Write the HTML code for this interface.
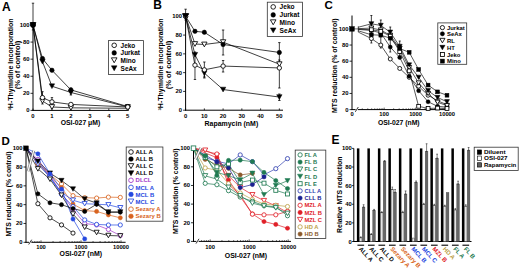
<!DOCTYPE html>
<html><head><meta charset="utf-8"><style>
html,body{margin:0;padding:0;background:#fff;}
svg{display:block;}
text{font-family:"Liberation Sans", sans-serif;}
</style></head><body>
<svg width="520" height="269" viewBox="0 0 520 269">
<rect x="0" y="0" width="520" height="269" fill="#fff"/>
<text x="1.9" y="10.8" font-size="12" text-anchor="start" font-weight="bold" fill="#000">A</text>
<text x="153.3" y="9.4" font-size="12" text-anchor="start" font-weight="bold" fill="#000">B</text>
<text x="324.5" y="8.9" font-size="11.5" text-anchor="start" font-weight="bold" fill="#000">C</text>
<text x="1.5" y="144.6" font-size="11.5" text-anchor="start" font-weight="bold" fill="#000">D</text>
<text x="331.6" y="144.1" font-size="12" text-anchor="start" font-weight="bold" fill="#000">E</text>
<line x1="33" y1="110.8" x2="33" y2="25" stroke="#000" stroke-width="1"/>
<line x1="30.5" y1="110.4" x2="33" y2="110.4" stroke="#000" stroke-width="0.8"/>
<text x="29.5" y="112.4" font-size="5.9" text-anchor="end" font-weight="bold" fill="#000">0</text>
<line x1="30.5" y1="93.32" x2="33" y2="93.32" stroke="#000" stroke-width="0.8"/>
<text x="29.5" y="95.32" font-size="5.9" text-anchor="end" font-weight="bold" fill="#000">20</text>
<line x1="30.5" y1="76.24" x2="33" y2="76.24" stroke="#000" stroke-width="0.8"/>
<text x="29.5" y="78.24" font-size="5.9" text-anchor="end" font-weight="bold" fill="#000">40</text>
<line x1="30.5" y1="59.16" x2="33" y2="59.16" stroke="#000" stroke-width="0.8"/>
<text x="29.5" y="61.16" font-size="5.9" text-anchor="end" font-weight="bold" fill="#000">60</text>
<line x1="30.5" y1="42.08" x2="33" y2="42.08" stroke="#000" stroke-width="0.8"/>
<text x="29.5" y="44.08" font-size="5.9" text-anchor="end" font-weight="bold" fill="#000">80</text>
<line x1="30.5" y1="25" x2="33" y2="25" stroke="#000" stroke-width="0.8"/>
<text x="29.5" y="27" font-size="5.9" text-anchor="end" font-weight="bold" fill="#000">100</text>
<line x1="32.5" y1="110.4" x2="128.6" y2="110.4" stroke="#000" stroke-width="1"/>
<line x1="33" y1="110.4" x2="33" y2="108.6" stroke="#000" stroke-width="0.8"/>
<text x="33" y="117.7" font-size="5.9" text-anchor="middle" font-weight="bold" fill="#000">0</text>
<line x1="51.95" y1="110.4" x2="51.95" y2="108.6" stroke="#000" stroke-width="0.8"/>
<text x="51.95" y="117.7" font-size="5.9" text-anchor="middle" font-weight="bold" fill="#000">1</text>
<line x1="70.9" y1="110.4" x2="70.9" y2="108.6" stroke="#000" stroke-width="0.8"/>
<text x="70.9" y="117.7" font-size="5.9" text-anchor="middle" font-weight="bold" fill="#000">2</text>
<line x1="89.85" y1="110.4" x2="89.85" y2="108.6" stroke="#000" stroke-width="0.8"/>
<text x="89.85" y="117.7" font-size="5.9" text-anchor="middle" font-weight="bold" fill="#000">3</text>
<line x1="108.8" y1="110.4" x2="108.8" y2="108.6" stroke="#000" stroke-width="0.8"/>
<text x="108.8" y="117.7" font-size="5.9" text-anchor="middle" font-weight="bold" fill="#000">4</text>
<line x1="127.75" y1="110.4" x2="127.75" y2="108.6" stroke="#000" stroke-width="0.8"/>
<text x="127.75" y="117.7" font-size="5.9" text-anchor="middle" font-weight="bold" fill="#000">5</text>
<text x="80.5" y="125" font-size="7" text-anchor="middle" font-weight="bold" fill="#000" textLength="39.5" lengthAdjust="spacingAndGlyphs">OSI-027 μM)</text>
<text x="12.6" y="64.5" font-size="7" text-anchor="middle" font-weight="bold" fill="#000" textLength="92" lengthAdjust="spacingAndGlyphs" transform="rotate(-90 12.6 64.5)">³H-Thymidine Incorporation</text>
<text x="20.2" y="65" font-size="7.4" text-anchor="middle" font-weight="bold" fill="#000" textLength="48.6" lengthAdjust="spacingAndGlyphs" transform="rotate(-90 20.2 65)">(% of control)</text>
<line x1="33" y1="3.2" x2="33" y2="30" stroke="#000" stroke-width="0.75"/>
<line x1="31.8" y1="3.2" x2="34.2" y2="3.2" stroke="#000" stroke-width="0.75"/>
<line x1="31.8" y1="30" x2="34.2" y2="30" stroke="#000" stroke-width="0.75"/>
<line x1="42.48" y1="91.7" x2="42.48" y2="104" stroke="#000" stroke-width="0.75"/>
<line x1="41.27" y1="91.7" x2="43.68" y2="91.7" stroke="#000" stroke-width="0.75"/>
<line x1="41.27" y1="104" x2="43.68" y2="104" stroke="#000" stroke-width="0.75"/>
<line x1="51.95" y1="97.6" x2="51.95" y2="108" stroke="#000" stroke-width="0.75"/>
<line x1="50.75" y1="97.6" x2="53.15" y2="97.6" stroke="#000" stroke-width="0.75"/>
<line x1="50.75" y1="108" x2="53.15" y2="108" stroke="#000" stroke-width="0.75"/>
<line x1="70.9" y1="88" x2="70.9" y2="95" stroke="#000" stroke-width="0.75"/>
<line x1="69.7" y1="88" x2="72.1" y2="88" stroke="#000" stroke-width="0.75"/>
<line x1="69.7" y1="95" x2="72.1" y2="95" stroke="#000" stroke-width="0.75"/>
<polyline points="33,25 42.48,97.59 51.95,101.86 70.9,104.42 127.75,106.98" fill="none" stroke="#000" stroke-width="0.75"/>
<polyline points="33,25 42.48,58.56 51.95,70.26 70.9,89.9 127.75,106.56" fill="none" stroke="#000" stroke-width="0.75"/>
<polyline points="33,25 42.48,101.01 51.95,106.98 70.9,107.84 127.75,108.27" fill="none" stroke="#000" stroke-width="0.75"/>
<polyline points="33,25 42.48,61.72 51.95,86.23 70.9,92.47 127.75,106.98" fill="none" stroke="#000" stroke-width="0.75"/>
<polygon points="30.3,22.63 35.7,22.63 33,27.37" fill="#000" stroke="#000" stroke-width="0.5"/>
<polygon points="39.78,59.36 45.17,59.36 42.48,64.09" fill="#000" stroke="#000" stroke-width="0.5"/>
<polygon points="49.26,83.87 54.65,83.87 51.95,88.6" fill="#000" stroke="#000" stroke-width="0.5"/>
<polygon points="68.21,90.1 73.59,90.1 70.9,94.83" fill="#000" stroke="#000" stroke-width="0.5"/>
<polygon points="125.06,104.62 130.44,104.62 127.75,109.35" fill="#000" stroke="#000" stroke-width="0.5"/>
<polygon points="30.3,22.63 35.7,22.63 33,27.37" fill="#fff" stroke="#000" stroke-width="0.85"/>
<polygon points="39.78,98.64 45.17,98.64 42.48,103.37" fill="#fff" stroke="#000" stroke-width="0.85"/>
<polygon points="49.26,104.62 54.65,104.62 51.95,109.35" fill="#fff" stroke="#000" stroke-width="0.85"/>
<polygon points="68.21,105.47 73.59,105.47 70.9,110.2" fill="#fff" stroke="#000" stroke-width="0.85"/>
<polygon points="125.06,105.9 130.44,105.9 127.75,110.63" fill="#fff" stroke="#000" stroke-width="0.85"/>
<circle cx="33" cy="25" r="2.2" fill="#000" stroke="#000" stroke-width="0.5"/>
<circle cx="42.48" cy="58.56" r="2.2" fill="#000" stroke="#000" stroke-width="0.5"/>
<circle cx="51.95" cy="70.26" r="2.2" fill="#000" stroke="#000" stroke-width="0.5"/>
<circle cx="70.9" cy="89.9" r="2.2" fill="#000" stroke="#000" stroke-width="0.5"/>
<circle cx="127.75" cy="106.56" r="2.2" fill="#000" stroke="#000" stroke-width="0.5"/>
<circle cx="33" cy="25" r="2.2" fill="#fff" stroke="#000" stroke-width="0.85"/>
<circle cx="42.48" cy="97.59" r="2.2" fill="#fff" stroke="#000" stroke-width="0.85"/>
<circle cx="51.95" cy="101.86" r="2.2" fill="#fff" stroke="#000" stroke-width="0.85"/>
<circle cx="70.9" cy="104.42" r="2.2" fill="#fff" stroke="#000" stroke-width="0.85"/>
<circle cx="127.75" cy="106.98" r="2.2" fill="#fff" stroke="#000" stroke-width="0.85"/>
<polygon points="30.43,22.74 35.57,22.74 33,27.26" fill="#000" stroke="#000" stroke-width="0.5"/>
<circle cx="33" cy="25" r="2.5" fill="#000" stroke="#000" stroke-width="0.5"/>
<rect x="108.4" y="40.6" width="35.1" height="33.9" fill="#fff" stroke="#333" stroke-width="0.8"/>
<circle cx="114.2" cy="45.3" r="2.3" fill="#fff" stroke="#000" stroke-width="0.85"/>
<text x="120.6" y="47.5" font-size="6.45" text-anchor="start" font-weight="bold" fill="#000">Jeko</text>
<circle cx="114.2" cy="52.9" r="2.3" fill="#000" stroke="#000" stroke-width="0.5"/>
<text x="120.6" y="55.1" font-size="6.45" text-anchor="start" font-weight="bold" fill="#000">Jurkat</text>
<polygon points="111.38,57.83 117.02,57.83 114.2,62.77" fill="#fff" stroke="#000" stroke-width="0.85"/>
<text x="120.6" y="62.5" font-size="6.45" text-anchor="start" font-weight="bold" fill="#000">Mino</text>
<polygon points="111.38,65.83 117.02,65.83 114.2,70.77" fill="#000" stroke="#000" stroke-width="0.5"/>
<text x="120.6" y="70.5" font-size="6.45" text-anchor="start" font-weight="bold" fill="#000">SeAx</text>
<line x1="185.6" y1="110.6" x2="185.6" y2="16.3" stroke="#000" stroke-width="1"/>
<line x1="183.1" y1="110.2" x2="185.6" y2="110.2" stroke="#000" stroke-width="0.8"/>
<text x="182.1" y="112.2" font-size="5.9" text-anchor="end" font-weight="bold" fill="#000">0</text>
<line x1="183.1" y1="91.42" x2="185.6" y2="91.42" stroke="#000" stroke-width="0.8"/>
<text x="182.1" y="93.42" font-size="5.9" text-anchor="end" font-weight="bold" fill="#000">20</text>
<line x1="183.1" y1="72.64" x2="185.6" y2="72.64" stroke="#000" stroke-width="0.8"/>
<text x="182.1" y="74.64" font-size="5.9" text-anchor="end" font-weight="bold" fill="#000">40</text>
<line x1="183.1" y1="53.86" x2="185.6" y2="53.86" stroke="#000" stroke-width="0.8"/>
<text x="182.1" y="55.86" font-size="5.9" text-anchor="end" font-weight="bold" fill="#000">60</text>
<line x1="183.1" y1="35.08" x2="185.6" y2="35.08" stroke="#000" stroke-width="0.8"/>
<text x="182.1" y="37.08" font-size="5.9" text-anchor="end" font-weight="bold" fill="#000">80</text>
<line x1="183.1" y1="16.3" x2="185.6" y2="16.3" stroke="#000" stroke-width="0.8"/>
<text x="182.1" y="18.3" font-size="5.9" text-anchor="end" font-weight="bold" fill="#000">100</text>
<line x1="185.1" y1="110.2" x2="283" y2="110.2" stroke="#000" stroke-width="1"/>
<line x1="185.6" y1="110.2" x2="185.6" y2="108.4" stroke="#000" stroke-width="0.8"/>
<text x="185.6" y="117.5" font-size="5.9" text-anchor="middle" font-weight="bold" fill="#000">0</text>
<line x1="204.35" y1="110.2" x2="204.35" y2="108.4" stroke="#000" stroke-width="0.8"/>
<text x="204.35" y="117.5" font-size="5.9" text-anchor="middle" font-weight="bold" fill="#000">10</text>
<line x1="223.1" y1="110.2" x2="223.1" y2="108.4" stroke="#000" stroke-width="0.8"/>
<text x="223.1" y="117.5" font-size="5.9" text-anchor="middle" font-weight="bold" fill="#000">20</text>
<line x1="241.85" y1="110.2" x2="241.85" y2="108.4" stroke="#000" stroke-width="0.8"/>
<text x="241.85" y="117.5" font-size="5.9" text-anchor="middle" font-weight="bold" fill="#000">30</text>
<line x1="260.6" y1="110.2" x2="260.6" y2="108.4" stroke="#000" stroke-width="0.8"/>
<text x="260.6" y="117.5" font-size="5.9" text-anchor="middle" font-weight="bold" fill="#000">40</text>
<line x1="279.35" y1="110.2" x2="279.35" y2="108.4" stroke="#000" stroke-width="0.8"/>
<text x="279.35" y="117.5" font-size="5.9" text-anchor="middle" font-weight="bold" fill="#000">50</text>
<text x="231.4" y="125.6" font-size="7" text-anchor="middle" font-weight="bold" fill="#000" textLength="53.6" lengthAdjust="spacingAndGlyphs">Rapamycin (nM)</text>
<text x="163.4" y="64.5" font-size="7" text-anchor="middle" font-weight="bold" fill="#000" textLength="92" lengthAdjust="spacingAndGlyphs" transform="rotate(-90 163.4 64.5)">³H-Thymidine Incorporation</text>
<text x="171" y="65" font-size="7.4" text-anchor="middle" font-weight="bold" fill="#000" textLength="48.6" lengthAdjust="spacingAndGlyphs" transform="rotate(-90 171 65)">(% of control)</text>
<line x1="185.6" y1="9.2" x2="185.6" y2="20" stroke="#000" stroke-width="0.75"/>
<line x1="184.4" y1="9.2" x2="186.8" y2="9.2" stroke="#000" stroke-width="0.75"/>
<line x1="184.4" y1="20" x2="186.8" y2="20" stroke="#000" stroke-width="0.75"/>
<line x1="194.97" y1="52" x2="194.97" y2="79.5" stroke="#000" stroke-width="0.75"/>
<line x1="193.78" y1="52" x2="196.17" y2="52" stroke="#000" stroke-width="0.75"/>
<line x1="193.78" y1="79.5" x2="196.17" y2="79.5" stroke="#000" stroke-width="0.75"/>
<line x1="204.35" y1="62" x2="204.35" y2="77" stroke="#000" stroke-width="0.75"/>
<line x1="203.15" y1="62" x2="205.55" y2="62" stroke="#000" stroke-width="0.75"/>
<line x1="203.15" y1="77" x2="205.55" y2="77" stroke="#000" stroke-width="0.75"/>
<line x1="223.1" y1="30" x2="223.1" y2="55" stroke="#000" stroke-width="0.75"/>
<line x1="221.9" y1="30" x2="224.3" y2="30" stroke="#000" stroke-width="0.75"/>
<line x1="221.9" y1="55" x2="224.3" y2="55" stroke="#000" stroke-width="0.75"/>
<line x1="279.35" y1="42.6" x2="279.35" y2="62" stroke="#000" stroke-width="0.75"/>
<line x1="278.15" y1="42.6" x2="280.55" y2="42.6" stroke="#000" stroke-width="0.75"/>
<line x1="278.15" y1="62" x2="280.55" y2="62" stroke="#000" stroke-width="0.75"/>
<line x1="279.35" y1="60" x2="279.35" y2="88" stroke="#000" stroke-width="0.75"/>
<line x1="278.15" y1="60" x2="280.55" y2="60" stroke="#000" stroke-width="0.75"/>
<line x1="278.15" y1="88" x2="280.55" y2="88" stroke="#000" stroke-width="0.75"/>
<line x1="204.35" y1="69" x2="204.35" y2="78" stroke="#000" stroke-width="0.75"/>
<line x1="203.15" y1="69" x2="205.55" y2="69" stroke="#000" stroke-width="0.75"/>
<line x1="203.15" y1="78" x2="205.55" y2="78" stroke="#000" stroke-width="0.75"/>
<line x1="223.1" y1="60.5" x2="223.1" y2="72" stroke="#000" stroke-width="0.75"/>
<line x1="221.9" y1="60.5" x2="224.3" y2="60.5" stroke="#000" stroke-width="0.75"/>
<line x1="221.9" y1="72" x2="224.3" y2="72" stroke="#000" stroke-width="0.75"/>
<line x1="279.35" y1="94" x2="279.35" y2="100.5" stroke="#000" stroke-width="0.75"/>
<line x1="278.15" y1="94" x2="280.55" y2="94" stroke="#000" stroke-width="0.75"/>
<line x1="278.15" y1="100.5" x2="280.55" y2="100.5" stroke="#000" stroke-width="0.75"/>
<polyline points="185.6,16.3 194.97,65.13 204.35,69.82 223.1,66.07 279.35,67.94" fill="none" stroke="#000" stroke-width="0.75"/>
<polyline points="185.6,16.3 194.97,31.32 204.35,32.26 223.1,44.47 279.35,52.45" fill="none" stroke="#000" stroke-width="0.75"/>
<polyline points="185.6,16.3 194.97,44 204.35,44.47 223.1,42.12 279.35,64.19" fill="none" stroke="#000" stroke-width="0.75"/>
<polyline points="185.6,16.3 194.97,54.8 204.35,73.11 223.1,89.54 279.35,97.05" fill="none" stroke="#000" stroke-width="0.75"/>
<polygon points="182.91,13.93 188.29,13.93 185.6,18.66" fill="#000" stroke="#000" stroke-width="0.5"/>
<polygon points="192.28,52.43 197.67,52.43 194.97,57.16" fill="#000" stroke="#000" stroke-width="0.5"/>
<polygon points="201.66,70.74 207.04,70.74 204.35,75.47" fill="#000" stroke="#000" stroke-width="0.5"/>
<polygon points="220.41,87.18 225.79,87.18 223.1,91.91" fill="#000" stroke="#000" stroke-width="0.5"/>
<polygon points="276.66,94.69 282.05,94.69 279.35,99.42" fill="#000" stroke="#000" stroke-width="0.5"/>
<polygon points="182.91,13.93 188.29,13.93 185.6,18.66" fill="#fff" stroke="#000" stroke-width="0.85"/>
<polygon points="192.28,41.64 197.67,41.64 194.97,46.37" fill="#fff" stroke="#000" stroke-width="0.85"/>
<polygon points="201.66,42.1 207.04,42.1 204.35,46.84" fill="#fff" stroke="#000" stroke-width="0.85"/>
<polygon points="220.41,39.76 225.79,39.76 223.1,44.49" fill="#fff" stroke="#000" stroke-width="0.85"/>
<polygon points="276.66,61.82 282.05,61.82 279.35,66.55" fill="#fff" stroke="#000" stroke-width="0.85"/>
<circle cx="185.6" cy="16.3" r="2.2" fill="#000" stroke="#000" stroke-width="0.5"/>
<circle cx="194.97" cy="31.32" r="2.2" fill="#000" stroke="#000" stroke-width="0.5"/>
<circle cx="204.35" cy="32.26" r="2.2" fill="#000" stroke="#000" stroke-width="0.5"/>
<circle cx="223.1" cy="44.47" r="2.2" fill="#000" stroke="#000" stroke-width="0.5"/>
<circle cx="279.35" cy="52.45" r="2.2" fill="#000" stroke="#000" stroke-width="0.5"/>
<circle cx="185.6" cy="16.3" r="2.2" fill="#fff" stroke="#000" stroke-width="0.85"/>
<circle cx="194.97" cy="65.13" r="2.2" fill="#fff" stroke="#000" stroke-width="0.85"/>
<circle cx="204.35" cy="69.82" r="2.2" fill="#fff" stroke="#000" stroke-width="0.85"/>
<circle cx="223.1" cy="66.07" r="2.2" fill="#fff" stroke="#000" stroke-width="0.85"/>
<circle cx="279.35" cy="67.94" r="2.2" fill="#fff" stroke="#000" stroke-width="0.85"/>
<polygon points="182.41,13.5 188.78,13.5 185.6,19.09" fill="#000" stroke="#000" stroke-width="0.5"/>
<rect x="267.3" y="2.2" width="35.1" height="34.3" fill="#fff" stroke="#333" stroke-width="0.8"/>
<circle cx="273.2" cy="6.9" r="2.3" fill="#fff" stroke="#000" stroke-width="0.85"/>
<text x="279.6" y="9.1" font-size="6.6" text-anchor="start" font-weight="bold" fill="#000">Jeko</text>
<circle cx="273.2" cy="14.9" r="2.3" fill="#000" stroke="#000" stroke-width="0.5"/>
<text x="279.6" y="17.1" font-size="6.6" text-anchor="start" font-weight="bold" fill="#000">Jurkat</text>
<polygon points="270.38,19.83 276.02,19.83 273.2,24.77" fill="#fff" stroke="#000" stroke-width="0.85"/>
<text x="279.6" y="24.5" font-size="6.6" text-anchor="start" font-weight="bold" fill="#000">Mino</text>
<polygon points="270.38,27.93 276.02,27.93 273.2,32.87" fill="#000" stroke="#000" stroke-width="0.5"/>
<text x="279.6" y="32.6" font-size="6.6" text-anchor="start" font-weight="bold" fill="#000">SeAx</text>
<line x1="352" y1="110" x2="352" y2="15.5" stroke="#000" stroke-width="1"/>
<line x1="349.5" y1="109.6" x2="352" y2="109.6" stroke="#000" stroke-width="0.8"/>
<text x="348.5" y="111.6" font-size="5.9" text-anchor="end" font-weight="bold" fill="#000">0</text>
<line x1="349.5" y1="93.46" x2="352" y2="93.46" stroke="#000" stroke-width="0.8"/>
<text x="348.5" y="95.46" font-size="5.9" text-anchor="end" font-weight="bold" fill="#000">20</text>
<line x1="349.5" y1="77.32" x2="352" y2="77.32" stroke="#000" stroke-width="0.8"/>
<text x="348.5" y="79.32" font-size="5.9" text-anchor="end" font-weight="bold" fill="#000">40</text>
<line x1="349.5" y1="61.18" x2="352" y2="61.18" stroke="#000" stroke-width="0.8"/>
<text x="348.5" y="63.18" font-size="5.9" text-anchor="end" font-weight="bold" fill="#000">60</text>
<line x1="349.5" y1="45.04" x2="352" y2="45.04" stroke="#000" stroke-width="0.8"/>
<text x="348.5" y="47.04" font-size="5.9" text-anchor="end" font-weight="bold" fill="#000">80</text>
<line x1="349.5" y1="28.9" x2="352" y2="28.9" stroke="#000" stroke-width="0.8"/>
<text x="348.5" y="30.9" font-size="5.9" text-anchor="end" font-weight="bold" fill="#000">100</text>
<line x1="351.5" y1="109.6" x2="355.6" y2="109.6" stroke="#000" stroke-width="1"/>
<line x1="357.9" y1="109.6" x2="448.5" y2="109.6" stroke="#000" stroke-width="1"/>
<line x1="355.3" y1="111.8" x2="358.3" y2="107" stroke="#000" stroke-width="0.8"/>
<line x1="362.25" y1="109.6" x2="362.25" y2="108.3" stroke="#000" stroke-width="0.6"/>
<line x1="367.78" y1="109.6" x2="367.78" y2="108.3" stroke="#000" stroke-width="0.6"/>
<line x1="371.7" y1="109.6" x2="371.7" y2="108.3" stroke="#000" stroke-width="0.6"/>
<line x1="374.75" y1="109.6" x2="374.75" y2="108.3" stroke="#000" stroke-width="0.6"/>
<line x1="377.23" y1="109.6" x2="377.23" y2="108.3" stroke="#000" stroke-width="0.6"/>
<line x1="379.34" y1="109.6" x2="379.34" y2="108.3" stroke="#000" stroke-width="0.6"/>
<line x1="381.16" y1="109.6" x2="381.16" y2="108.3" stroke="#000" stroke-width="0.6"/>
<line x1="382.76" y1="109.6" x2="382.76" y2="108.3" stroke="#000" stroke-width="0.6"/>
<line x1="384.2" y1="109.6" x2="384.2" y2="107.6" stroke="#000" stroke-width="0.6"/>
<line x1="393.65" y1="109.6" x2="393.65" y2="108.3" stroke="#000" stroke-width="0.6"/>
<line x1="399.18" y1="109.6" x2="399.18" y2="108.3" stroke="#000" stroke-width="0.6"/>
<line x1="403.1" y1="109.6" x2="403.1" y2="108.3" stroke="#000" stroke-width="0.6"/>
<line x1="406.15" y1="109.6" x2="406.15" y2="108.3" stroke="#000" stroke-width="0.6"/>
<line x1="408.63" y1="109.6" x2="408.63" y2="108.3" stroke="#000" stroke-width="0.6"/>
<line x1="410.74" y1="109.6" x2="410.74" y2="108.3" stroke="#000" stroke-width="0.6"/>
<line x1="412.56" y1="109.6" x2="412.56" y2="108.3" stroke="#000" stroke-width="0.6"/>
<line x1="414.16" y1="109.6" x2="414.16" y2="108.3" stroke="#000" stroke-width="0.6"/>
<line x1="415.6" y1="109.6" x2="415.6" y2="107.6" stroke="#000" stroke-width="0.6"/>
<line x1="425.05" y1="109.6" x2="425.05" y2="108.3" stroke="#000" stroke-width="0.6"/>
<line x1="430.58" y1="109.6" x2="430.58" y2="108.3" stroke="#000" stroke-width="0.6"/>
<line x1="434.5" y1="109.6" x2="434.5" y2="108.3" stroke="#000" stroke-width="0.6"/>
<line x1="437.55" y1="109.6" x2="437.55" y2="108.3" stroke="#000" stroke-width="0.6"/>
<line x1="440.03" y1="109.6" x2="440.03" y2="108.3" stroke="#000" stroke-width="0.6"/>
<line x1="442.14" y1="109.6" x2="442.14" y2="108.3" stroke="#000" stroke-width="0.6"/>
<line x1="443.96" y1="109.6" x2="443.96" y2="108.3" stroke="#000" stroke-width="0.6"/>
<line x1="445.56" y1="109.6" x2="445.56" y2="108.3" stroke="#000" stroke-width="0.6"/>
<line x1="447" y1="109.6" x2="447" y2="107.6" stroke="#000" stroke-width="0.6"/>
<text x="352" y="116.4" font-size="5.8" text-anchor="middle" font-weight="bold" fill="#000">0</text>
<text x="384.2" y="116.4" font-size="5.8" text-anchor="middle" font-weight="bold" fill="#000">100</text>
<text x="415.6" y="116.4" font-size="5.8" text-anchor="middle" font-weight="bold" fill="#000">1000</text>
<text x="447" y="116.4" font-size="5.8" text-anchor="middle" font-weight="bold" fill="#000">10000</text>
<text x="398.8" y="125" font-size="7" text-anchor="middle" font-weight="bold" fill="#000" textLength="41.6" lengthAdjust="spacingAndGlyphs">OSI-027 (nM)</text>
<text x="337.4" y="65.7" font-size="7" text-anchor="middle" font-weight="bold" fill="#000" textLength="94.4" lengthAdjust="spacingAndGlyphs" transform="rotate(-90 337.4 65.7)">MTS reduction (% of control)</text>
<line x1="371.36" y1="15.5" x2="371.36" y2="43" stroke="#000" stroke-width="0.75"/>
<line x1="370.36" y1="15.5" x2="372.36" y2="15.5" stroke="#000" stroke-width="0.75"/>
<line x1="370.36" y1="43" x2="372.36" y2="43" stroke="#000" stroke-width="0.75"/>
<line x1="380.81" y1="20" x2="380.81" y2="48" stroke="#000" stroke-width="0.75"/>
<line x1="379.81" y1="20" x2="381.81" y2="20" stroke="#000" stroke-width="0.75"/>
<line x1="379.81" y1="48" x2="381.81" y2="48" stroke="#000" stroke-width="0.75"/>
<line x1="390.26" y1="27" x2="390.26" y2="52" stroke="#000" stroke-width="0.75"/>
<line x1="389.26" y1="27" x2="391.26" y2="27" stroke="#000" stroke-width="0.75"/>
<line x1="389.26" y1="52" x2="391.26" y2="52" stroke="#000" stroke-width="0.75"/>
<line x1="399.72" y1="41" x2="399.72" y2="56" stroke="#000" stroke-width="0.75"/>
<line x1="398.72" y1="41" x2="400.72" y2="41" stroke="#000" stroke-width="0.75"/>
<line x1="398.72" y1="56" x2="400.72" y2="56" stroke="#000" stroke-width="0.75"/>
<polyline points="358.3,32.1 371.36,38.58 380.81,45.04 390.26,59 399.72,68.44 409.19,77.32 418.64,86.2 428.1,95.24 437.55,100.72 447,104.76" fill="none" stroke="#000" stroke-width="0.65"/>
<polyline points="358.3,29.43 371.36,30.51 380.81,32.94 390.26,47.06 399.72,57.47 409.19,76.19 418.64,90.72 428.1,101.77 437.55,106.29 447,107.18" fill="none" stroke="#000" stroke-width="0.65"/>
<polyline points="358.3,28.63 371.36,28.09 380.81,30.03 390.26,35.36 399.72,48.27 409.19,67.64 418.64,82.97 428.1,93.46 437.55,102.34 447,105.56" fill="none" stroke="#000" stroke-width="0.65"/>
<polyline points="358.3,27.22 371.36,23.82 380.81,25.43 390.26,32.21 399.72,46.41 409.19,64.97 418.64,77.32 428.1,90.72 437.55,97.49 447,101.77" fill="none" stroke="#000" stroke-width="0.65"/>
<polyline points="358.3,29.17 371.36,29.71 380.81,31.32 390.26,36.16 399.72,51.5 409.19,70.86 418.64,106.29 428.1,108.47 437.55,108.07 447,108.47" fill="none" stroke="#000" stroke-width="0.65"/>
<polyline points="358.3,30.84 371.36,34.79 380.81,35.19 390.26,38.18 399.72,48.59 409.19,52.3 418.64,69.49 428.1,85.07 437.55,91.85 447,95.24" fill="none" stroke="#000" stroke-width="0.65"/>
<line x1="358.3" y1="26.3" x2="358.3" y2="32.1" stroke="#000" stroke-width="0.7"/>
<line x1="352" y1="28.9" x2="358.3" y2="28.9" stroke="#000" stroke-width="0.6"/>
<rect x="349.72" y="26.62" width="4.56" height="4.56" fill="#000" stroke="#000" stroke-width="0.5"/>
<circle cx="371.36" cy="38.58" r="2" fill="#fff" stroke="#000" stroke-width="0.85"/>
<circle cx="380.81" cy="45.04" r="2" fill="#fff" stroke="#000" stroke-width="0.85"/>
<circle cx="390.26" cy="59" r="2" fill="#fff" stroke="#000" stroke-width="0.85"/>
<circle cx="399.72" cy="68.44" r="2" fill="#fff" stroke="#000" stroke-width="0.85"/>
<circle cx="409.19" cy="77.32" r="2" fill="#fff" stroke="#000" stroke-width="0.85"/>
<circle cx="418.64" cy="86.2" r="2" fill="#fff" stroke="#000" stroke-width="0.85"/>
<circle cx="428.1" cy="95.24" r="2" fill="#fff" stroke="#000" stroke-width="0.85"/>
<circle cx="437.55" cy="100.72" r="2" fill="#fff" stroke="#000" stroke-width="0.85"/>
<circle cx="447" cy="104.76" r="2" fill="#fff" stroke="#000" stroke-width="0.85"/>
<circle cx="371.36" cy="30.51" r="2" fill="#000" stroke="#000" stroke-width="0.5"/>
<circle cx="380.81" cy="32.94" r="2" fill="#000" stroke="#000" stroke-width="0.5"/>
<circle cx="390.26" cy="47.06" r="2" fill="#000" stroke="#000" stroke-width="0.5"/>
<circle cx="399.72" cy="57.47" r="2" fill="#000" stroke="#000" stroke-width="0.5"/>
<circle cx="409.19" cy="76.19" r="2" fill="#000" stroke="#000" stroke-width="0.5"/>
<circle cx="418.64" cy="90.72" r="2" fill="#000" stroke="#000" stroke-width="0.5"/>
<circle cx="428.1" cy="101.77" r="2" fill="#000" stroke="#000" stroke-width="0.5"/>
<circle cx="437.55" cy="106.29" r="2" fill="#000" stroke="#000" stroke-width="0.5"/>
<circle cx="447" cy="107.18" r="2" fill="#000" stroke="#000" stroke-width="0.5"/>
<polygon points="368.91,25.94 373.81,25.94 371.36,30.24" fill="#fff" stroke="#000" stroke-width="0.85"/>
<polygon points="378.36,27.88 383.26,27.88 380.81,32.18" fill="#fff" stroke="#000" stroke-width="0.85"/>
<polygon points="387.81,33.21 392.71,33.21 390.26,37.51" fill="#fff" stroke="#000" stroke-width="0.85"/>
<polygon points="397.27,46.12 402.17,46.12 399.72,50.42" fill="#fff" stroke="#000" stroke-width="0.85"/>
<polygon points="406.74,65.49 411.64,65.49 409.19,69.79" fill="#fff" stroke="#000" stroke-width="0.85"/>
<polygon points="416.19,80.82 421.09,80.82 418.64,85.12" fill="#fff" stroke="#000" stroke-width="0.85"/>
<polygon points="425.65,91.31 430.55,91.31 428.1,95.61" fill="#fff" stroke="#000" stroke-width="0.85"/>
<polygon points="435.1,100.19 440,100.19 437.55,104.49" fill="#fff" stroke="#000" stroke-width="0.85"/>
<polygon points="444.55,103.41 449.45,103.41 447,107.72" fill="#fff" stroke="#000" stroke-width="0.85"/>
<polygon points="368.91,21.67 373.81,21.67 371.36,25.97" fill="#000" stroke="#000" stroke-width="0.5"/>
<polygon points="378.36,23.28 383.26,23.28 380.81,27.58" fill="#000" stroke="#000" stroke-width="0.5"/>
<polygon points="387.81,30.06 392.71,30.06 390.26,34.36" fill="#000" stroke="#000" stroke-width="0.5"/>
<polygon points="397.27,44.26 402.17,44.26 399.72,48.56" fill="#000" stroke="#000" stroke-width="0.5"/>
<polygon points="406.74,62.82 411.64,62.82 409.19,67.12" fill="#000" stroke="#000" stroke-width="0.5"/>
<polygon points="416.19,75.17 421.09,75.17 418.64,79.47" fill="#000" stroke="#000" stroke-width="0.5"/>
<polygon points="425.65,88.57 430.55,88.57 428.1,92.87" fill="#000" stroke="#000" stroke-width="0.5"/>
<polygon points="435.1,95.34 440,95.34 437.55,99.64" fill="#000" stroke="#000" stroke-width="0.5"/>
<polygon points="444.55,99.62 449.45,99.62 447,103.92" fill="#000" stroke="#000" stroke-width="0.5"/>
<rect x="369.46" y="27.81" width="3.8" height="3.8" fill="#fff" stroke="#000" stroke-width="0.85"/>
<rect x="378.91" y="29.42" width="3.8" height="3.8" fill="#fff" stroke="#000" stroke-width="0.85"/>
<rect x="388.36" y="34.26" width="3.8" height="3.8" fill="#fff" stroke="#000" stroke-width="0.85"/>
<rect x="397.82" y="49.6" width="3.8" height="3.8" fill="#fff" stroke="#000" stroke-width="0.85"/>
<rect x="407.29" y="68.96" width="3.8" height="3.8" fill="#fff" stroke="#000" stroke-width="0.85"/>
<rect x="416.74" y="104.39" width="3.8" height="3.8" fill="#fff" stroke="#000" stroke-width="0.85"/>
<rect x="426.2" y="106.57" width="3.8" height="3.8" fill="#fff" stroke="#000" stroke-width="0.85"/>
<rect x="435.65" y="106.17" width="3.8" height="3.8" fill="#fff" stroke="#000" stroke-width="0.85"/>
<rect x="445.1" y="106.57" width="3.8" height="3.8" fill="#fff" stroke="#000" stroke-width="0.85"/>
<rect x="369.46" y="32.89" width="3.8" height="3.8" fill="#000" stroke="#000" stroke-width="0.5"/>
<rect x="378.91" y="33.29" width="3.8" height="3.8" fill="#000" stroke="#000" stroke-width="0.5"/>
<rect x="388.36" y="36.28" width="3.8" height="3.8" fill="#000" stroke="#000" stroke-width="0.5"/>
<rect x="397.82" y="46.69" width="3.8" height="3.8" fill="#000" stroke="#000" stroke-width="0.5"/>
<rect x="407.29" y="50.4" width="3.8" height="3.8" fill="#000" stroke="#000" stroke-width="0.5"/>
<rect x="416.74" y="67.59" width="3.8" height="3.8" fill="#000" stroke="#000" stroke-width="0.5"/>
<rect x="426.2" y="83.17" width="3.8" height="3.8" fill="#000" stroke="#000" stroke-width="0.5"/>
<rect x="435.65" y="89.95" width="3.8" height="3.8" fill="#000" stroke="#000" stroke-width="0.5"/>
<rect x="445.1" y="93.34" width="3.8" height="3.8" fill="#000" stroke="#000" stroke-width="0.5"/>
<rect x="437.8" y="22.9" width="28.9" height="41.4" fill="#fff" stroke="#333" stroke-width="0.8"/>
<circle cx="442.4" cy="27.6" r="2.1" fill="#fff" stroke="#000" stroke-width="0.85"/>
<text x="447" y="29.7" font-size="5.9" text-anchor="start" font-weight="bold" fill="#000">Jurkat</text>
<circle cx="442.4" cy="33.8" r="2.1" fill="#000" stroke="#000" stroke-width="0.5"/>
<text x="447" y="35.9" font-size="5.9" text-anchor="start" font-weight="bold" fill="#000">SeAx</text>
<polygon points="439.83,38.34 444.97,38.34 442.4,42.86" fill="#fff" stroke="#000" stroke-width="0.85"/>
<text x="447" y="42.7" font-size="5.9" text-anchor="start" font-weight="bold" fill="#000">RL</text>
<polygon points="439.83,45.34 444.97,45.34 442.4,49.86" fill="#000" stroke="#000" stroke-width="0.5"/>
<text x="447" y="49.7" font-size="5.9" text-anchor="start" font-weight="bold" fill="#000">HT</text>
<rect x="440.4" y="52.51" width="3.99" height="3.99" fill="#fff" stroke="#000" stroke-width="0.85"/>
<text x="447" y="56.6" font-size="5.9" text-anchor="start" font-weight="bold" fill="#000">Jeko</text>
<rect x="440.4" y="59.11" width="3.99" height="3.99" fill="#000" stroke="#000" stroke-width="0.5"/>
<text x="447" y="63.2" font-size="5.9" text-anchor="start" font-weight="bold" fill="#000">Mino</text>
<line x1="26" y1="242.7" x2="26" y2="148.2" stroke="#000" stroke-width="1"/>
<line x1="23.5" y1="242.3" x2="26" y2="242.3" stroke="#000" stroke-width="0.8"/>
<text x="22.5" y="244.3" font-size="5.9" text-anchor="end" font-weight="bold" fill="#000">0</text>
<line x1="23.5" y1="223.48" x2="26" y2="223.48" stroke="#000" stroke-width="0.8"/>
<text x="22.5" y="225.48" font-size="5.9" text-anchor="end" font-weight="bold" fill="#000">20</text>
<line x1="23.5" y1="204.66" x2="26" y2="204.66" stroke="#000" stroke-width="0.8"/>
<text x="22.5" y="206.66" font-size="5.9" text-anchor="end" font-weight="bold" fill="#000">40</text>
<line x1="23.5" y1="185.84" x2="26" y2="185.84" stroke="#000" stroke-width="0.8"/>
<text x="22.5" y="187.84" font-size="5.9" text-anchor="end" font-weight="bold" fill="#000">60</text>
<line x1="23.5" y1="167.02" x2="26" y2="167.02" stroke="#000" stroke-width="0.8"/>
<text x="22.5" y="169.02" font-size="5.9" text-anchor="end" font-weight="bold" fill="#000">80</text>
<line x1="23.5" y1="148.2" x2="26" y2="148.2" stroke="#000" stroke-width="0.8"/>
<text x="22.5" y="150.2" font-size="5.9" text-anchor="end" font-weight="bold" fill="#000">100</text>
<line x1="25.5" y1="242.3" x2="29" y2="242.3" stroke="#000" stroke-width="1"/>
<line x1="31.4" y1="242.3" x2="125.6" y2="242.3" stroke="#000" stroke-width="1"/>
<line x1="28.7" y1="244.5" x2="31.7" y2="239.7" stroke="#000" stroke-width="0.8"/>
<line x1="32.13" y1="242.3" x2="32.13" y2="241" stroke="#000" stroke-width="0.6"/>
<line x1="34.8" y1="242.3" x2="34.8" y2="241" stroke="#000" stroke-width="0.6"/>
<line x1="37.12" y1="242.3" x2="37.12" y2="241" stroke="#000" stroke-width="0.6"/>
<line x1="39.17" y1="242.3" x2="39.17" y2="241" stroke="#000" stroke-width="0.6"/>
<line x1="41" y1="242.3" x2="41" y2="240.3" stroke="#000" stroke-width="0.6"/>
<line x1="53.04" y1="242.3" x2="53.04" y2="241" stroke="#000" stroke-width="0.6"/>
<line x1="60.08" y1="242.3" x2="60.08" y2="241" stroke="#000" stroke-width="0.6"/>
<line x1="65.08" y1="242.3" x2="65.08" y2="241" stroke="#000" stroke-width="0.6"/>
<line x1="68.96" y1="242.3" x2="68.96" y2="241" stroke="#000" stroke-width="0.6"/>
<line x1="72.13" y1="242.3" x2="72.13" y2="241" stroke="#000" stroke-width="0.6"/>
<line x1="74.8" y1="242.3" x2="74.8" y2="241" stroke="#000" stroke-width="0.6"/>
<line x1="77.12" y1="242.3" x2="77.12" y2="241" stroke="#000" stroke-width="0.6"/>
<line x1="79.17" y1="242.3" x2="79.17" y2="241" stroke="#000" stroke-width="0.6"/>
<line x1="81" y1="242.3" x2="81" y2="240.3" stroke="#000" stroke-width="0.6"/>
<line x1="93.04" y1="242.3" x2="93.04" y2="241" stroke="#000" stroke-width="0.6"/>
<line x1="100.08" y1="242.3" x2="100.08" y2="241" stroke="#000" stroke-width="0.6"/>
<line x1="105.08" y1="242.3" x2="105.08" y2="241" stroke="#000" stroke-width="0.6"/>
<line x1="108.96" y1="242.3" x2="108.96" y2="241" stroke="#000" stroke-width="0.6"/>
<line x1="112.13" y1="242.3" x2="112.13" y2="241" stroke="#000" stroke-width="0.6"/>
<line x1="114.8" y1="242.3" x2="114.8" y2="241" stroke="#000" stroke-width="0.6"/>
<line x1="117.12" y1="242.3" x2="117.12" y2="241" stroke="#000" stroke-width="0.6"/>
<line x1="119.17" y1="242.3" x2="119.17" y2="241" stroke="#000" stroke-width="0.6"/>
<line x1="121" y1="242.3" x2="121" y2="240.3" stroke="#000" stroke-width="0.6"/>
<text x="41" y="249.1" font-size="5.8" text-anchor="middle" font-weight="bold" fill="#000">100</text>
<text x="81" y="249.1" font-size="5.8" text-anchor="middle" font-weight="bold" fill="#000">1000</text>
<text x="121" y="249.1" font-size="5.8" text-anchor="middle" font-weight="bold" fill="#000">10000</text>
<text x="80.8" y="256" font-size="7" text-anchor="middle" font-weight="bold" fill="#000" textLength="42.5" lengthAdjust="spacingAndGlyphs">OSI-027 (nM)</text>
<text x="10.6" y="194" font-size="6.9" text-anchor="middle" font-weight="bold" fill="#000" textLength="85" lengthAdjust="spacingAndGlyphs" transform="rotate(-90 10.6 194)">MTS reduction (% control)</text>
<polyline points="26,148.2 37.9,163.26 50,174.55 61.5,183.96 73,195.63 84.7,197.7 96.6,198.07 108.4,197.13 120.3,197.41" fill="none" stroke="#d86420" stroke-width="0.7"/>
<polyline points="26,148.2 37.9,164.2 50,176.43 61.5,187.72 73,204 84.7,210.59 96.6,211.44 108.4,214.92 120.3,217.83" fill="none" stroke="#d86420" stroke-width="0.7"/>
<polyline points="26,148.2 37.9,159.49 50,175.49 61.5,193.37 73,209.37 84.7,223.48 96.6,224.99 108.4,229.5 120.3,235.52" fill="none" stroke="#a038c8" stroke-width="0.7"/>
<polyline points="26,148.2 37.9,161.37 50,177.37 61.5,194.31 73,206.54 84.7,219.9 96.6,224.42 108.4,224.99 120.3,224.99" fill="none" stroke="#2448e0" stroke-width="0.7"/>
<polyline points="26,148.2 37.9,164.2 50,177.37 61.5,192.43 73,200.24 84.7,203.72 96.6,204.19 108.4,204.85 120.3,207.77" fill="none" stroke="#2448e0" stroke-width="0.7"/>
<polyline points="26,148.2 37.9,168.9 50,179.25 61.5,195.25 73,214.07 84.7,227.24 96.6,232.51 108.4,235.52 120.3,235.9" fill="none" stroke="#000" stroke-width="0.7"/>
<polyline points="26,148.2 37.9,161.37 50,173.14 61.5,180.57 73,189.04 84.7,199.01 96.6,203.06 108.4,212 120.3,212" fill="none" stroke="#000" stroke-width="0.7"/>
<polyline points="26,148.2 37.9,153.85 50,173.8 61.5,189.13 73,219.06 84.7,238.91" fill="none" stroke="#2448e0" stroke-width="0.7"/>
<polyline points="26,148.2 37.9,193.84 50,202.78 61.5,204.66 73,208.61 84.7,211.44 96.6,204.28 108.4,212.19 120.3,212.19" fill="none" stroke="#000" stroke-width="0.7"/>
<polyline points="26,148.2 37.9,203.72 50,217.83 61.5,224.89 73,233.08" fill="none" stroke="#000" stroke-width="0.7"/>
<polygon points="28.96,171.77 34.76,150.77 32.84,150.23 27.04,171.23" fill="#fff" stroke="none"/>
<line x1="28.96" y1="171.77" x2="34.76" y2="150.77" stroke="#333" stroke-width="0.5"/>
<line x1="27.04" y1="171.23" x2="32.84" y2="150.23" stroke="#333" stroke-width="0.5"/>
<rect x="23.72" y="145.92" width="4.56" height="4.56" fill="#000" stroke="#000" stroke-width="0.5"/>
<circle cx="37.9" cy="163.26" r="2.1" fill="#fff" stroke="#d86420" stroke-width="0.85"/>
<circle cx="50" cy="174.55" r="2.1" fill="#fff" stroke="#d86420" stroke-width="0.85"/>
<circle cx="61.5" cy="183.96" r="2.1" fill="#fff" stroke="#d86420" stroke-width="0.85"/>
<circle cx="73" cy="195.63" r="2.1" fill="#fff" stroke="#d86420" stroke-width="0.85"/>
<circle cx="84.7" cy="197.7" r="2.1" fill="#fff" stroke="#d86420" stroke-width="0.85"/>
<circle cx="96.6" cy="198.07" r="2.1" fill="#fff" stroke="#d86420" stroke-width="0.85"/>
<circle cx="108.4" cy="197.13" r="2.1" fill="#fff" stroke="#d86420" stroke-width="0.85"/>
<circle cx="120.3" cy="197.41" r="2.1" fill="#fff" stroke="#d86420" stroke-width="0.85"/>
<circle cx="37.9" cy="164.2" r="2.1" fill="#d86420" stroke="#d86420" stroke-width="0.5"/>
<circle cx="50" cy="176.43" r="2.1" fill="#d86420" stroke="#d86420" stroke-width="0.5"/>
<circle cx="61.5" cy="187.72" r="2.1" fill="#d86420" stroke="#d86420" stroke-width="0.5"/>
<circle cx="73" cy="204" r="2.1" fill="#d86420" stroke="#d86420" stroke-width="0.5"/>
<circle cx="84.7" cy="210.59" r="2.1" fill="#d86420" stroke="#d86420" stroke-width="0.5"/>
<circle cx="96.6" cy="211.44" r="2.1" fill="#d86420" stroke="#d86420" stroke-width="0.5"/>
<circle cx="108.4" cy="214.92" r="2.1" fill="#d86420" stroke="#d86420" stroke-width="0.5"/>
<circle cx="120.3" cy="217.83" r="2.1" fill="#d86420" stroke="#d86420" stroke-width="0.5"/>
<circle cx="37.9" cy="159.49" r="2.1" fill="#fff" stroke="#a038c8" stroke-width="0.85"/>
<circle cx="50" cy="175.49" r="2.1" fill="#fff" stroke="#a038c8" stroke-width="0.85"/>
<circle cx="61.5" cy="193.37" r="2.1" fill="#fff" stroke="#a038c8" stroke-width="0.85"/>
<circle cx="73" cy="209.37" r="2.1" fill="#fff" stroke="#a038c8" stroke-width="0.85"/>
<circle cx="84.7" cy="223.48" r="2.1" fill="#fff" stroke="#a038c8" stroke-width="0.85"/>
<circle cx="96.6" cy="224.99" r="2.1" fill="#fff" stroke="#a038c8" stroke-width="0.85"/>
<circle cx="108.4" cy="229.5" r="2.1" fill="#fff" stroke="#a038c8" stroke-width="0.85"/>
<circle cx="120.3" cy="235.52" r="2.1" fill="#fff" stroke="#a038c8" stroke-width="0.85"/>
<circle cx="37.9" cy="161.37" r="2.1" fill="#fff" stroke="#2448e0" stroke-width="0.85"/>
<circle cx="50" cy="177.37" r="2.1" fill="#fff" stroke="#2448e0" stroke-width="0.85"/>
<circle cx="61.5" cy="194.31" r="2.1" fill="#fff" stroke="#2448e0" stroke-width="0.85"/>
<circle cx="73" cy="206.54" r="2.1" fill="#fff" stroke="#2448e0" stroke-width="0.85"/>
<circle cx="84.7" cy="219.9" r="2.1" fill="#fff" stroke="#2448e0" stroke-width="0.85"/>
<circle cx="96.6" cy="224.42" r="2.1" fill="#fff" stroke="#2448e0" stroke-width="0.85"/>
<circle cx="108.4" cy="224.99" r="2.1" fill="#fff" stroke="#2448e0" stroke-width="0.85"/>
<circle cx="120.3" cy="224.99" r="2.1" fill="#fff" stroke="#2448e0" stroke-width="0.85"/>
<polygon points="35.33,161.94 40.47,161.94 37.9,166.45" fill="#fff" stroke="#2448e0" stroke-width="0.85"/>
<polygon points="47.43,175.11 52.57,175.11 50,179.63" fill="#fff" stroke="#2448e0" stroke-width="0.85"/>
<polygon points="58.93,190.17 64.07,190.17 61.5,194.68" fill="#fff" stroke="#2448e0" stroke-width="0.85"/>
<polygon points="70.43,197.98 75.57,197.98 73,202.49" fill="#fff" stroke="#2448e0" stroke-width="0.85"/>
<polygon points="82.13,201.46 87.27,201.46 84.7,205.98" fill="#fff" stroke="#2448e0" stroke-width="0.85"/>
<polygon points="94.03,201.93 99.17,201.93 96.6,206.45" fill="#fff" stroke="#2448e0" stroke-width="0.85"/>
<polygon points="105.83,202.59 110.97,202.59 108.4,207.11" fill="#fff" stroke="#2448e0" stroke-width="0.85"/>
<polygon points="117.73,205.51 122.87,205.51 120.3,210.02" fill="#fff" stroke="#2448e0" stroke-width="0.85"/>
<polygon points="35.33,166.64 40.47,166.64 37.9,171.16" fill="#fff" stroke="#000" stroke-width="0.85"/>
<polygon points="47.43,177 52.57,177 50,181.51" fill="#fff" stroke="#000" stroke-width="0.85"/>
<polygon points="58.93,192.99 64.07,192.99 61.5,197.51" fill="#fff" stroke="#000" stroke-width="0.85"/>
<polygon points="70.43,211.81 75.57,211.81 73,216.33" fill="#fff" stroke="#000" stroke-width="0.85"/>
<polygon points="82.13,224.99 87.27,224.99 84.7,229.5" fill="#fff" stroke="#000" stroke-width="0.85"/>
<polygon points="94.03,230.26 99.17,230.26 96.6,234.77" fill="#fff" stroke="#000" stroke-width="0.85"/>
<polygon points="105.83,233.27 110.97,233.27 108.4,237.78" fill="#fff" stroke="#000" stroke-width="0.85"/>
<polygon points="117.73,233.64 122.87,233.64 120.3,238.16" fill="#fff" stroke="#000" stroke-width="0.85"/>
<polygon points="35.33,159.12 40.47,159.12 37.9,163.63" fill="#000" stroke="#000" stroke-width="0.5"/>
<polygon points="47.43,170.88 52.57,170.88 50,175.39" fill="#000" stroke="#000" stroke-width="0.5"/>
<polygon points="58.93,178.31 64.07,178.31 61.5,182.83" fill="#000" stroke="#000" stroke-width="0.5"/>
<polygon points="70.43,186.78 75.57,186.78 73,191.3" fill="#000" stroke="#000" stroke-width="0.5"/>
<polygon points="82.13,196.76 87.27,196.76 84.7,201.27" fill="#000" stroke="#000" stroke-width="0.5"/>
<polygon points="94.03,200.8 99.17,200.8 96.6,205.32" fill="#000" stroke="#000" stroke-width="0.5"/>
<polygon points="105.83,209.74 110.97,209.74 108.4,214.26" fill="#000" stroke="#000" stroke-width="0.5"/>
<polygon points="117.73,209.74 122.87,209.74 120.3,214.26" fill="#000" stroke="#000" stroke-width="0.5"/>
<circle cx="37.9" cy="153.85" r="2.1" fill="#2448e0" stroke="#2448e0" stroke-width="0.5"/>
<circle cx="50" cy="173.8" r="2.1" fill="#2448e0" stroke="#2448e0" stroke-width="0.5"/>
<circle cx="61.5" cy="189.13" r="2.1" fill="#2448e0" stroke="#2448e0" stroke-width="0.5"/>
<circle cx="73" cy="219.06" r="2.1" fill="#2448e0" stroke="#2448e0" stroke-width="0.5"/>
<circle cx="84.7" cy="238.91" r="2.1" fill="#2448e0" stroke="#2448e0" stroke-width="0.5"/>
<circle cx="37.9" cy="193.84" r="2.1" fill="#000" stroke="#000" stroke-width="0.5"/>
<circle cx="50" cy="202.78" r="2.1" fill="#000" stroke="#000" stroke-width="0.5"/>
<circle cx="61.5" cy="204.66" r="2.1" fill="#000" stroke="#000" stroke-width="0.5"/>
<circle cx="73" cy="208.61" r="2.1" fill="#000" stroke="#000" stroke-width="0.5"/>
<circle cx="84.7" cy="211.44" r="2.1" fill="#000" stroke="#000" stroke-width="0.5"/>
<circle cx="96.6" cy="204.28" r="2.1" fill="#000" stroke="#000" stroke-width="0.5"/>
<circle cx="108.4" cy="212.19" r="2.1" fill="#000" stroke="#000" stroke-width="0.5"/>
<circle cx="120.3" cy="212.19" r="2.1" fill="#000" stroke="#000" stroke-width="0.5"/>
<circle cx="37.9" cy="203.72" r="2.1" fill="#fff" stroke="#000" stroke-width="0.85"/>
<circle cx="50" cy="217.83" r="2.1" fill="#fff" stroke="#000" stroke-width="0.85"/>
<circle cx="61.5" cy="224.89" r="2.1" fill="#fff" stroke="#000" stroke-width="0.85"/>
<circle cx="73" cy="233.08" r="2.1" fill="#fff" stroke="#000" stroke-width="0.85"/>
<rect x="126.2" y="147" width="36.7" height="74.2" fill="#fff" stroke="#333" stroke-width="0.8"/>
<circle cx="131" cy="152" r="2.3" fill="#fff" stroke="#000" stroke-width="0.85"/>
<text x="135.6" y="154.2" font-size="5.95" text-anchor="start" font-weight="bold" fill="#000">ALL A</text>
<circle cx="131" cy="159.07" r="2.3" fill="#000" stroke="#000" stroke-width="0.5"/>
<text x="135.6" y="161.27" font-size="5.95" text-anchor="start" font-weight="bold" fill="#000">ALL B</text>
<polygon points="128.18,163.67 133.82,163.67 131,168.61" fill="#fff" stroke="#000" stroke-width="0.85"/>
<text x="135.6" y="168.34" font-size="5.95" text-anchor="start" font-weight="bold" fill="#000">ALL C</text>
<polygon points="128.18,170.74 133.82,170.74 131,175.68" fill="#000" stroke="#000" stroke-width="0.5"/>
<text x="135.6" y="175.41" font-size="5.95" text-anchor="start" font-weight="bold" fill="#000">ALL D</text>
<circle cx="131" cy="180.28" r="2.3" fill="#fff" stroke="#a038c8" stroke-width="0.85"/>
<text x="135.6" y="182.48" font-size="5.95" text-anchor="start" font-weight="bold" fill="#a038c8">DLCL</text>
<circle cx="131" cy="187.35" r="2.3" fill="#fff" stroke="#2448e0" stroke-width="0.85"/>
<text x="135.6" y="189.55" font-size="5.95" text-anchor="start" font-weight="bold" fill="#2448e0">MCL A</text>
<circle cx="131" cy="194.42" r="2.3" fill="#2448e0" stroke="#2448e0" stroke-width="0.5"/>
<text x="135.6" y="196.62" font-size="5.95" text-anchor="start" font-weight="bold" fill="#2448e0">MCL B</text>
<polygon points="128.18,199.02 133.82,199.02 131,203.96" fill="#fff" stroke="#2448e0" stroke-width="0.85"/>
<text x="135.6" y="203.69" font-size="5.95" text-anchor="start" font-weight="bold" fill="#2448e0">MCL C</text>
<circle cx="131" cy="209.16" r="2.3" fill="#fff" stroke="#d86420" stroke-width="0.85"/>
<text x="135.6" y="211.36" font-size="5.95" text-anchor="start" font-weight="bold" fill="#d86420">Sezary A</text>
<circle cx="131" cy="216.23" r="2.3" fill="#d86420" stroke="#d86420" stroke-width="0.5"/>
<text x="135.6" y="218.43" font-size="5.95" text-anchor="start" font-weight="bold" fill="#d86420">Sezary B</text>
<line x1="193.5" y1="241.8" x2="193.5" y2="148.2" stroke="#000" stroke-width="1"/>
<line x1="191" y1="241.4" x2="193.5" y2="241.4" stroke="#000" stroke-width="0.8"/>
<text x="190" y="243.4" font-size="5.9" text-anchor="end" font-weight="bold" fill="#000">0</text>
<line x1="191" y1="222.76" x2="193.5" y2="222.76" stroke="#000" stroke-width="0.8"/>
<text x="190" y="224.76" font-size="5.9" text-anchor="end" font-weight="bold" fill="#000">20</text>
<line x1="191" y1="204.12" x2="193.5" y2="204.12" stroke="#000" stroke-width="0.8"/>
<text x="190" y="206.12" font-size="5.9" text-anchor="end" font-weight="bold" fill="#000">40</text>
<line x1="191" y1="185.48" x2="193.5" y2="185.48" stroke="#000" stroke-width="0.8"/>
<text x="190" y="187.48" font-size="5.9" text-anchor="end" font-weight="bold" fill="#000">60</text>
<line x1="191" y1="166.84" x2="193.5" y2="166.84" stroke="#000" stroke-width="0.8"/>
<text x="190" y="168.84" font-size="5.9" text-anchor="end" font-weight="bold" fill="#000">80</text>
<line x1="191" y1="148.2" x2="193.5" y2="148.2" stroke="#000" stroke-width="0.8"/>
<text x="190" y="150.2" font-size="5.9" text-anchor="end" font-weight="bold" fill="#000">100</text>
<line x1="193" y1="241.4" x2="196.3" y2="241.4" stroke="#000" stroke-width="1"/>
<line x1="198.7" y1="241.4" x2="291" y2="241.4" stroke="#000" stroke-width="1"/>
<line x1="196" y1="243.6" x2="199" y2="238.8" stroke="#000" stroke-width="0.8"/>
<line x1="201.55" y1="241.4" x2="201.55" y2="240.1" stroke="#000" stroke-width="0.6"/>
<line x1="204.16" y1="241.4" x2="204.16" y2="240.1" stroke="#000" stroke-width="0.6"/>
<line x1="206.42" y1="241.4" x2="206.42" y2="240.1" stroke="#000" stroke-width="0.6"/>
<line x1="208.42" y1="241.4" x2="208.42" y2="240.1" stroke="#000" stroke-width="0.6"/>
<line x1="210.2" y1="241.4" x2="210.2" y2="239.4" stroke="#000" stroke-width="0.6"/>
<line x1="221.94" y1="241.4" x2="221.94" y2="240.1" stroke="#000" stroke-width="0.6"/>
<line x1="228.81" y1="241.4" x2="228.81" y2="240.1" stroke="#000" stroke-width="0.6"/>
<line x1="233.68" y1="241.4" x2="233.68" y2="240.1" stroke="#000" stroke-width="0.6"/>
<line x1="237.46" y1="241.4" x2="237.46" y2="240.1" stroke="#000" stroke-width="0.6"/>
<line x1="240.55" y1="241.4" x2="240.55" y2="240.1" stroke="#000" stroke-width="0.6"/>
<line x1="243.16" y1="241.4" x2="243.16" y2="240.1" stroke="#000" stroke-width="0.6"/>
<line x1="245.42" y1="241.4" x2="245.42" y2="240.1" stroke="#000" stroke-width="0.6"/>
<line x1="247.42" y1="241.4" x2="247.42" y2="240.1" stroke="#000" stroke-width="0.6"/>
<line x1="249.2" y1="241.4" x2="249.2" y2="239.4" stroke="#000" stroke-width="0.6"/>
<line x1="260.94" y1="241.4" x2="260.94" y2="240.1" stroke="#000" stroke-width="0.6"/>
<line x1="267.81" y1="241.4" x2="267.81" y2="240.1" stroke="#000" stroke-width="0.6"/>
<line x1="272.68" y1="241.4" x2="272.68" y2="240.1" stroke="#000" stroke-width="0.6"/>
<line x1="276.46" y1="241.4" x2="276.46" y2="240.1" stroke="#000" stroke-width="0.6"/>
<line x1="279.55" y1="241.4" x2="279.55" y2="240.1" stroke="#000" stroke-width="0.6"/>
<line x1="282.16" y1="241.4" x2="282.16" y2="240.1" stroke="#000" stroke-width="0.6"/>
<line x1="284.42" y1="241.4" x2="284.42" y2="240.1" stroke="#000" stroke-width="0.6"/>
<line x1="286.42" y1="241.4" x2="286.42" y2="240.1" stroke="#000" stroke-width="0.6"/>
<line x1="288.2" y1="241.4" x2="288.2" y2="239.4" stroke="#000" stroke-width="0.6"/>
<text x="210.2" y="248.9" font-size="5.8" text-anchor="middle" font-weight="bold" fill="#000">100</text>
<text x="249.2" y="248.9" font-size="5.8" text-anchor="middle" font-weight="bold" fill="#000">1000</text>
<text x="288.2" y="248.9" font-size="5.8" text-anchor="middle" font-weight="bold" fill="#000">10000</text>
<text x="246" y="257.7" font-size="7" text-anchor="middle" font-weight="bold" fill="#000" textLength="42.3" lengthAdjust="spacingAndGlyphs">OSI-027 (nM)</text>
<text x="178.2" y="191.3" font-size="6.9" text-anchor="middle" font-weight="bold" fill="#000" textLength="85.5" lengthAdjust="spacingAndGlyphs" transform="rotate(-90 178.2 191.3)">MTS reduction (% control)</text>
<polyline points="193.5,148.2 205.2,150.25 216.9,155.66 228.5,175.69 240.2,187.34 252.4,194.8 264,200.67 275.8,205.98 287.5,212.51" fill="none" stroke="#e02028" stroke-width="0.7"/>
<polyline points="193.5,148.2 216.9,157.71 228.5,180.07 240.2,196.66 252.4,213.91 264,221.55 275.8,224.44 287.5,228.26" fill="none" stroke="#e02028" stroke-width="0.7"/>
<polyline points="193.5,148.2 216.9,153.98 228.5,184.55 240.2,194.8 252.4,214.19 264,214.84 275.8,214.84 287.5,211.39" fill="none" stroke="#e02028" stroke-width="0.7"/>
<polyline points="193.5,148.2 205.2,167.96 216.9,170.2 228.5,183.62 240.2,192.94 252.4,199.46 264,204.12 275.8,205.24 287.5,206.54" fill="none" stroke="#bca048" stroke-width="0.7"/>
<polyline points="193.5,148.2 205.2,183.34 216.9,184.73 228.5,190.7 240.2,197.04 252.4,201.32 264,205.7 275.8,206.92 287.5,215.77" fill="none" stroke="#1f7a52" stroke-width="0.7"/>
<polyline points="193.5,148.2 205.2,175.88 216.9,179.14 228.5,187.34 240.2,195.73 252.4,203.19 264,205.98 275.8,207.85 287.5,213.44" fill="none" stroke="#1f7a52" stroke-width="0.7"/>
<polyline points="193.5,148.2 205.2,157.52 216.9,161.25 228.5,163.86 240.2,154.91 252.4,161.62 264,174.76 275.8,168.7 287.5,158.64" fill="none" stroke="#3040b0" stroke-width="0.7"/>
<polyline points="193.5,148.2 205.2,159.38 216.9,164.98 228.5,168.33 240.2,174.95 252.4,173.36" fill="none" stroke="#8c5a2c" stroke-width="0.7"/>
<polyline points="193.5,148.2 216.9,161.9 228.5,167.77 240.2,187.62 252.4,184.55 264,176.91" fill="none" stroke="#1a2090" stroke-width="0.7"/>
<polyline points="193.5,148.2 205.2,157.52 216.9,166.84 228.5,163.86 240.2,182.4 252.4,180.07 264,183.15 275.8,190.33 287.5,193.96" fill="none" stroke="#1f7a52" stroke-width="0.7"/>
<polyline points="193.5,148.2 205.2,156.59 216.9,172.43 228.5,175.69 240.2,179.89 252.4,173.36 264,194.8 275.8,185.48 287.5,180.82" fill="none" stroke="#1f7a52" stroke-width="0.7"/>
<polyline points="193.5,148.2 205.2,155.66 216.9,175.23 228.5,160.41 240.2,160.13 252.4,161.62 264,172.43 275.8,180.54 287.5,188.56" fill="none" stroke="#1f7a52" stroke-width="0.7"/>
<polygon points="196.2,159.93 201.8,148.03 200,147.17 194.4,159.07" fill="#fff" stroke="none"/>
<line x1="196.2" y1="159.93" x2="201.8" y2="148.03" stroke="#333" stroke-width="0.5"/>
<line x1="194.4" y1="159.07" x2="200" y2="147.17" stroke="#333" stroke-width="0.5"/>
<rect x="191.22" y="145.92" width="4.56" height="4.56" fill="#fff" stroke="#1f7a52" stroke-width="0.85"/>
<polygon points="202.63,147.99 207.77,147.99 205.2,152.51" fill="#fff" stroke="#e02028" stroke-width="0.85"/>
<polygon points="214.33,153.4 219.47,153.4 216.9,157.91" fill="#fff" stroke="#e02028" stroke-width="0.85"/>
<polygon points="225.93,173.44 231.07,173.44 228.5,177.95" fill="#fff" stroke="#e02028" stroke-width="0.85"/>
<polygon points="237.63,185.09 242.77,185.09 240.2,189.6" fill="#fff" stroke="#e02028" stroke-width="0.85"/>
<polygon points="249.83,192.54 254.97,192.54 252.4,197.06" fill="#fff" stroke="#e02028" stroke-width="0.85"/>
<polygon points="261.43,198.41 266.57,198.41 264,202.93" fill="#fff" stroke="#e02028" stroke-width="0.85"/>
<polygon points="273.23,203.73 278.37,203.73 275.8,208.24" fill="#fff" stroke="#e02028" stroke-width="0.85"/>
<polygon points="284.93,210.25 290.07,210.25 287.5,214.77" fill="#fff" stroke="#e02028" stroke-width="0.85"/>
<circle cx="216.9" cy="157.71" r="2.1" fill="#e02028" stroke="#e02028" stroke-width="0.5"/>
<circle cx="228.5" cy="180.07" r="2.1" fill="#e02028" stroke="#e02028" stroke-width="0.5"/>
<circle cx="240.2" cy="196.66" r="2.1" fill="#e02028" stroke="#e02028" stroke-width="0.5"/>
<circle cx="252.4" cy="213.91" r="2.1" fill="#e02028" stroke="#e02028" stroke-width="0.5"/>
<circle cx="264" cy="221.55" r="2.1" fill="#e02028" stroke="#e02028" stroke-width="0.5"/>
<circle cx="275.8" cy="224.44" r="2.1" fill="#e02028" stroke="#e02028" stroke-width="0.5"/>
<circle cx="287.5" cy="228.26" r="2.1" fill="#e02028" stroke="#e02028" stroke-width="0.5"/>
<circle cx="216.9" cy="153.98" r="2.1" fill="#fff" stroke="#e02028" stroke-width="0.85"/>
<circle cx="228.5" cy="184.55" r="2.1" fill="#fff" stroke="#e02028" stroke-width="0.85"/>
<circle cx="240.2" cy="194.8" r="2.1" fill="#fff" stroke="#e02028" stroke-width="0.85"/>
<circle cx="252.4" cy="214.19" r="2.1" fill="#fff" stroke="#e02028" stroke-width="0.85"/>
<circle cx="264" cy="214.84" r="2.1" fill="#fff" stroke="#e02028" stroke-width="0.85"/>
<circle cx="275.8" cy="214.84" r="2.1" fill="#fff" stroke="#e02028" stroke-width="0.85"/>
<circle cx="287.5" cy="211.39" r="2.1" fill="#fff" stroke="#e02028" stroke-width="0.85"/>
<circle cx="205.2" cy="167.96" r="2.1" fill="#fff" stroke="#bca048" stroke-width="0.85"/>
<circle cx="216.9" cy="170.2" r="2.1" fill="#fff" stroke="#bca048" stroke-width="0.85"/>
<circle cx="228.5" cy="183.62" r="2.1" fill="#fff" stroke="#bca048" stroke-width="0.85"/>
<circle cx="240.2" cy="192.94" r="2.1" fill="#fff" stroke="#bca048" stroke-width="0.85"/>
<circle cx="252.4" cy="199.46" r="2.1" fill="#fff" stroke="#bca048" stroke-width="0.85"/>
<circle cx="264" cy="204.12" r="2.1" fill="#fff" stroke="#bca048" stroke-width="0.85"/>
<circle cx="275.8" cy="205.24" r="2.1" fill="#fff" stroke="#bca048" stroke-width="0.85"/>
<circle cx="287.5" cy="206.54" r="2.1" fill="#fff" stroke="#bca048" stroke-width="0.85"/>
<circle cx="205.2" cy="183.34" r="2.1" fill="#fff" stroke="#1f7a52" stroke-width="0.85"/>
<circle cx="216.9" cy="184.73" r="2.1" fill="#fff" stroke="#1f7a52" stroke-width="0.85"/>
<circle cx="228.5" cy="190.7" r="2.1" fill="#fff" stroke="#1f7a52" stroke-width="0.85"/>
<circle cx="240.2" cy="197.04" r="2.1" fill="#fff" stroke="#1f7a52" stroke-width="0.85"/>
<circle cx="252.4" cy="201.32" r="2.1" fill="#fff" stroke="#1f7a52" stroke-width="0.85"/>
<circle cx="264" cy="205.7" r="2.1" fill="#fff" stroke="#1f7a52" stroke-width="0.85"/>
<circle cx="275.8" cy="206.92" r="2.1" fill="#fff" stroke="#1f7a52" stroke-width="0.85"/>
<circle cx="287.5" cy="215.77" r="2.1" fill="#fff" stroke="#1f7a52" stroke-width="0.85"/>
<polygon points="202.63,173.62 207.77,173.62 205.2,178.14" fill="#fff" stroke="#1f7a52" stroke-width="0.85"/>
<polygon points="214.33,176.88 219.47,176.88 216.9,181.4" fill="#fff" stroke="#1f7a52" stroke-width="0.85"/>
<polygon points="225.93,185.09 231.07,185.09 228.5,189.6" fill="#fff" stroke="#1f7a52" stroke-width="0.85"/>
<polygon points="237.63,193.47 242.77,193.47 240.2,197.99" fill="#fff" stroke="#1f7a52" stroke-width="0.85"/>
<polygon points="249.83,200.93 254.97,200.93 252.4,205.45" fill="#fff" stroke="#1f7a52" stroke-width="0.85"/>
<polygon points="261.43,203.73 266.57,203.73 264,208.24" fill="#fff" stroke="#1f7a52" stroke-width="0.85"/>
<polygon points="273.23,205.59 278.37,205.59 275.8,210.11" fill="#fff" stroke="#1f7a52" stroke-width="0.85"/>
<polygon points="284.93,211.18 290.07,211.18 287.5,215.7" fill="#fff" stroke="#1f7a52" stroke-width="0.85"/>
<circle cx="205.2" cy="157.52" r="2.1" fill="#fff" stroke="#3040b0" stroke-width="0.85"/>
<circle cx="216.9" cy="161.25" r="2.1" fill="#fff" stroke="#3040b0" stroke-width="0.85"/>
<circle cx="228.5" cy="163.86" r="2.1" fill="#fff" stroke="#3040b0" stroke-width="0.85"/>
<circle cx="240.2" cy="154.91" r="2.1" fill="#fff" stroke="#3040b0" stroke-width="0.85"/>
<circle cx="252.4" cy="161.62" r="2.1" fill="#fff" stroke="#3040b0" stroke-width="0.85"/>
<circle cx="264" cy="174.76" r="2.1" fill="#fff" stroke="#3040b0" stroke-width="0.85"/>
<circle cx="275.8" cy="168.7" r="2.1" fill="#fff" stroke="#3040b0" stroke-width="0.85"/>
<circle cx="287.5" cy="158.64" r="2.1" fill="#fff" stroke="#3040b0" stroke-width="0.85"/>
<circle cx="205.2" cy="159.38" r="2.1" fill="#8c5a2c" stroke="#8c5a2c" stroke-width="0.5"/>
<circle cx="216.9" cy="164.98" r="2.1" fill="#8c5a2c" stroke="#8c5a2c" stroke-width="0.5"/>
<circle cx="228.5" cy="168.33" r="2.1" fill="#8c5a2c" stroke="#8c5a2c" stroke-width="0.5"/>
<circle cx="240.2" cy="174.95" r="2.1" fill="#8c5a2c" stroke="#8c5a2c" stroke-width="0.5"/>
<circle cx="252.4" cy="173.36" r="2.1" fill="#8c5a2c" stroke="#8c5a2c" stroke-width="0.5"/>
<circle cx="216.9" cy="161.9" r="2.1" fill="#1a2090" stroke="#1a2090" stroke-width="0.5"/>
<circle cx="228.5" cy="167.77" r="2.1" fill="#1a2090" stroke="#1a2090" stroke-width="0.5"/>
<circle cx="240.2" cy="187.62" r="2.1" fill="#1a2090" stroke="#1a2090" stroke-width="0.5"/>
<circle cx="252.4" cy="184.55" r="2.1" fill="#1a2090" stroke="#1a2090" stroke-width="0.5"/>
<circle cx="264" cy="176.91" r="2.1" fill="#1a2090" stroke="#1a2090" stroke-width="0.5"/>
<rect x="203.2" y="155.52" width="3.99" height="3.99" fill="#fff" stroke="#1f7a52" stroke-width="0.85"/>
<rect x="214.91" y="164.84" width="3.99" height="3.99" fill="#fff" stroke="#1f7a52" stroke-width="0.85"/>
<rect x="226.5" y="161.86" width="3.99" height="3.99" fill="#fff" stroke="#1f7a52" stroke-width="0.85"/>
<rect x="238.2" y="180.41" width="3.99" height="3.99" fill="#fff" stroke="#1f7a52" stroke-width="0.85"/>
<rect x="250.41" y="178.08" width="3.99" height="3.99" fill="#fff" stroke="#1f7a52" stroke-width="0.85"/>
<rect x="262" y="181.16" width="3.99" height="3.99" fill="#fff" stroke="#1f7a52" stroke-width="0.85"/>
<rect x="273.81" y="188.33" width="3.99" height="3.99" fill="#fff" stroke="#1f7a52" stroke-width="0.85"/>
<rect x="285.5" y="191.97" width="3.99" height="3.99" fill="#fff" stroke="#1f7a52" stroke-width="0.85"/>
<polygon points="202.63,154.33 207.77,154.33 205.2,158.85" fill="#1f7a52" stroke="#1f7a52" stroke-width="0.5"/>
<polygon points="214.33,170.17 219.47,170.17 216.9,174.69" fill="#1f7a52" stroke="#1f7a52" stroke-width="0.5"/>
<polygon points="225.93,173.44 231.07,173.44 228.5,177.95" fill="#1f7a52" stroke="#1f7a52" stroke-width="0.5"/>
<polygon points="237.63,177.63 242.77,177.63 240.2,182.15" fill="#1f7a52" stroke="#1f7a52" stroke-width="0.5"/>
<polygon points="249.83,171.11 254.97,171.11 252.4,175.62" fill="#1f7a52" stroke="#1f7a52" stroke-width="0.5"/>
<polygon points="261.43,192.54 266.57,192.54 264,197.06" fill="#1f7a52" stroke="#1f7a52" stroke-width="0.5"/>
<polygon points="273.23,183.22 278.37,183.22 275.8,187.74" fill="#1f7a52" stroke="#1f7a52" stroke-width="0.5"/>
<polygon points="284.93,178.56 290.07,178.56 287.5,183.08" fill="#1f7a52" stroke="#1f7a52" stroke-width="0.5"/>
<circle cx="205.2" cy="155.66" r="2.1" fill="#1f7a52" stroke="#1f7a52" stroke-width="0.5"/>
<circle cx="216.9" cy="175.23" r="2.1" fill="#1f7a52" stroke="#1f7a52" stroke-width="0.5"/>
<circle cx="228.5" cy="160.41" r="2.1" fill="#1f7a52" stroke="#1f7a52" stroke-width="0.5"/>
<circle cx="240.2" cy="160.13" r="2.1" fill="#1f7a52" stroke="#1f7a52" stroke-width="0.5"/>
<circle cx="252.4" cy="161.62" r="2.1" fill="#1f7a52" stroke="#1f7a52" stroke-width="0.5"/>
<circle cx="264" cy="172.43" r="2.1" fill="#1f7a52" stroke="#1f7a52" stroke-width="0.5"/>
<circle cx="275.8" cy="180.54" r="2.1" fill="#1f7a52" stroke="#1f7a52" stroke-width="0.5"/>
<circle cx="287.5" cy="188.56" r="2.1" fill="#1f7a52" stroke="#1f7a52" stroke-width="0.5"/>
<rect x="295.2" y="150.1" width="30.6" height="88.4" fill="#fff" stroke="#333" stroke-width="0.8"/>
<circle cx="300.1" cy="154.9" r="2.15" fill="#fff" stroke="#1f7a52" stroke-width="0.85"/>
<text x="304.5" y="157" font-size="5.75" text-anchor="start" font-weight="bold" fill="#1f7a52">FL A</text>
<circle cx="300.1" cy="162.1" r="2.15" fill="#1f7a52" stroke="#1f7a52" stroke-width="0.5"/>
<text x="304.5" y="164.2" font-size="5.75" text-anchor="start" font-weight="bold" fill="#1f7a52">FL B</text>
<polygon points="297.47,166.99 302.73,166.99 300.1,171.61" fill="#fff" stroke="#1f7a52" stroke-width="0.85"/>
<text x="304.5" y="171.4" font-size="5.75" text-anchor="start" font-weight="bold" fill="#1f7a52">FL C</text>
<polygon points="297.47,174.19 302.73,174.19 300.1,178.81" fill="#1f7a52" stroke="#1f7a52" stroke-width="0.5"/>
<text x="304.5" y="178.6" font-size="5.75" text-anchor="start" font-weight="bold" fill="#1f7a52">FL D</text>
<rect x="298.06" y="181.66" width="4.08" height="4.08" fill="#fff" stroke="#1f7a52" stroke-width="0.85"/>
<text x="304.5" y="185.8" font-size="5.75" text-anchor="start" font-weight="bold" fill="#1f7a52">FL E</text>
<circle cx="300.1" cy="190.9" r="2.15" fill="#fff" stroke="#3040b0" stroke-width="0.85"/>
<text x="304.5" y="193" font-size="5.75" text-anchor="start" font-weight="bold" fill="#3040b0">CLL A</text>
<circle cx="300.1" cy="198.1" r="2.15" fill="#1a2090" stroke="#1a2090" stroke-width="0.5"/>
<text x="304.5" y="200.2" font-size="5.75" text-anchor="start" font-weight="bold" fill="#1a2090">CLL B</text>
<circle cx="300.1" cy="205.3" r="2.15" fill="#fff" stroke="#e02028" stroke-width="0.85"/>
<text x="304.5" y="207.4" font-size="5.75" text-anchor="start" font-weight="bold" fill="#e02028">MZL A</text>
<circle cx="300.1" cy="212.5" r="2.15" fill="#e02028" stroke="#e02028" stroke-width="0.5"/>
<text x="304.5" y="214.6" font-size="5.75" text-anchor="start" font-weight="bold" fill="#e02028">MZL B</text>
<polygon points="297.47,217.39 302.73,217.39 300.1,222.01" fill="#fff" stroke="#e02028" stroke-width="0.85"/>
<text x="304.5" y="221.8" font-size="5.75" text-anchor="start" font-weight="bold" fill="#e02028">MZL C</text>
<circle cx="300.1" cy="226.9" r="2.15" fill="#fff" stroke="#bca048" stroke-width="0.85"/>
<text x="304.5" y="229" font-size="5.75" text-anchor="start" font-weight="bold" fill="#bca048">HD A</text>
<circle cx="300.1" cy="234.1" r="2.15" fill="#8c5a2c" stroke="#8c5a2c" stroke-width="0.5"/>
<text x="304.5" y="236.2" font-size="5.75" text-anchor="start" font-weight="bold" fill="#8c5a2c">HD B</text>
<line x1="353.8" y1="241.9" x2="353.8" y2="148.4" stroke="#000" stroke-width="1"/>
<line x1="352" y1="241.5" x2="353.8" y2="241.5" stroke="#000" stroke-width="0.8"/>
<text x="351.9" y="243.5" font-size="5.9" text-anchor="end" font-weight="bold" fill="#000">0</text>
<line x1="352" y1="222.88" x2="353.8" y2="222.88" stroke="#000" stroke-width="0.8"/>
<text x="351.9" y="224.88" font-size="5.9" text-anchor="end" font-weight="bold" fill="#000">20</text>
<line x1="352" y1="204.26" x2="353.8" y2="204.26" stroke="#000" stroke-width="0.8"/>
<text x="351.9" y="206.26" font-size="5.9" text-anchor="end" font-weight="bold" fill="#000">40</text>
<line x1="352" y1="185.64" x2="353.8" y2="185.64" stroke="#000" stroke-width="0.8"/>
<text x="351.9" y="187.64" font-size="5.9" text-anchor="end" font-weight="bold" fill="#000">60</text>
<line x1="352" y1="167.02" x2="353.8" y2="167.02" stroke="#000" stroke-width="0.8"/>
<text x="351.9" y="169.02" font-size="5.9" text-anchor="end" font-weight="bold" fill="#000">80</text>
<line x1="352" y1="148.4" x2="353.8" y2="148.4" stroke="#000" stroke-width="0.8"/>
<text x="351.9" y="150.4" font-size="5.9" text-anchor="end" font-weight="bold" fill="#000">100</text>
<line x1="353.3" y1="241.5" x2="471.5" y2="241.5" stroke="#000" stroke-width="1.1"/>
<text x="342.3" y="194.7" font-size="7.1" text-anchor="middle" font-weight="bold" fill="#000" textLength="76.5" lengthAdjust="spacingAndGlyphs" transform="rotate(-90 342.3 194.7)">Relative MTS reduction</text>
<rect x="356.9" y="148.4" width="2.5" height="93.1" fill="#000" stroke="none" stroke-width="0.7"/>
<rect x="359.65" y="237.78" width="2.3" height="3.72" fill="#e4e4e4" stroke="#444" stroke-width="0.5"/>
<rect x="362.15" y="207.05" width="2.8" height="34.45" fill="#666" stroke="#444" stroke-width="0.3"/>
<line x1="360.8" y1="236.84" x2="360.8" y2="237.78" stroke="#000" stroke-width="0.45"/>
<line x1="360" y1="236.84" x2="361.6" y2="236.84" stroke="#000" stroke-width="0.45"/>
<line x1="360" y1="237.78" x2="361.6" y2="237.78" stroke="#000" stroke-width="0.45"/>
<line x1="363.6" y1="204.73" x2="363.6" y2="207.05" stroke="#000" stroke-width="0.5"/>
<line x1="362.7" y1="204.73" x2="364.5" y2="204.73" stroke="#000" stroke-width="0.5"/>
<line x1="362.7" y1="207.05" x2="364.5" y2="207.05" stroke="#000" stroke-width="0.5"/>
<line x1="357.45" y1="245.2" x2="364.15" y2="245.2" stroke="#000" stroke-width="1.1"/>
<text x="358.45" y="249.3" font-size="6.1" text-anchor="start" font-weight="bold" fill="#000" transform="rotate(47 358.45 249.3)">ALL A</text>
<rect x="367.4" y="148.4" width="2.5" height="93.1" fill="#000" stroke="none" stroke-width="0.7"/>
<rect x="370.15" y="234.52" width="2.3" height="6.98" fill="#e4e4e4" stroke="#444" stroke-width="0.5"/>
<rect x="372.65" y="210.4" width="2.8" height="31.1" fill="#666" stroke="#444" stroke-width="0.3"/>
<line x1="371.3" y1="233.59" x2="371.3" y2="234.52" stroke="#000" stroke-width="0.45"/>
<line x1="370.5" y1="233.59" x2="372.1" y2="233.59" stroke="#000" stroke-width="0.45"/>
<line x1="370.5" y1="234.52" x2="372.1" y2="234.52" stroke="#000" stroke-width="0.45"/>
<line x1="374.1" y1="209.38" x2="374.1" y2="210.4" stroke="#000" stroke-width="0.5"/>
<line x1="373.2" y1="209.38" x2="375" y2="209.38" stroke="#000" stroke-width="0.5"/>
<line x1="373.2" y1="210.4" x2="375" y2="210.4" stroke="#000" stroke-width="0.5"/>
<line x1="367.95" y1="245.2" x2="374.65" y2="245.2" stroke="#000" stroke-width="1.1"/>
<text x="368.95" y="249.3" font-size="6.1" text-anchor="start" font-weight="bold" fill="#000" transform="rotate(47 368.95 249.3)">ALL C</text>
<rect x="377.9" y="148.4" width="2.5" height="93.1" fill="#000" stroke="none" stroke-width="0.7"/>
<rect x="380.65" y="212.64" width="2.3" height="28.86" fill="#e4e4e4" stroke="#444" stroke-width="0.5"/>
<rect x="383.15" y="161.43" width="2.8" height="80.07" fill="#666" stroke="#444" stroke-width="0.3"/>
<line x1="381.8" y1="211.71" x2="381.8" y2="212.64" stroke="#000" stroke-width="0.45"/>
<line x1="381" y1="211.71" x2="382.6" y2="211.71" stroke="#000" stroke-width="0.45"/>
<line x1="381" y1="212.64" x2="382.6" y2="212.64" stroke="#000" stroke-width="0.45"/>
<line x1="384.6" y1="160.5" x2="384.6" y2="161.43" stroke="#000" stroke-width="0.5"/>
<line x1="383.7" y1="160.5" x2="385.5" y2="160.5" stroke="#000" stroke-width="0.5"/>
<line x1="383.7" y1="161.43" x2="385.5" y2="161.43" stroke="#000" stroke-width="0.5"/>
<line x1="378.45" y1="245.2" x2="385.15" y2="245.2" stroke="#000" stroke-width="1.1"/>
<text x="379.45" y="249.3" font-size="6.1" text-anchor="start" font-weight="bold" fill="#000" transform="rotate(47 379.45 249.3)">ALL D</text>
<rect x="388.4" y="148.4" width="2.5" height="93.1" fill="#000" stroke="none" stroke-width="0.7"/>
<rect x="391.15" y="189.36" width="2.3" height="52.14" fill="#e4e4e4" stroke="#444" stroke-width="0.5"/>
<rect x="393.65" y="192.16" width="2.8" height="49.34" fill="#666" stroke="#444" stroke-width="0.3"/>
<line x1="392.3" y1="187.04" x2="392.3" y2="189.36" stroke="#000" stroke-width="0.45"/>
<line x1="391.5" y1="187.04" x2="393.1" y2="187.04" stroke="#000" stroke-width="0.45"/>
<line x1="391.5" y1="189.36" x2="393.1" y2="189.36" stroke="#000" stroke-width="0.45"/>
<line x1="395.1" y1="189.55" x2="395.1" y2="192.16" stroke="#000" stroke-width="0.5"/>
<line x1="394.2" y1="189.55" x2="396" y2="189.55" stroke="#000" stroke-width="0.5"/>
<line x1="394.2" y1="192.16" x2="396" y2="192.16" stroke="#000" stroke-width="0.5"/>
<line x1="388.95" y1="245.2" x2="395.65" y2="245.2" stroke="#000" stroke-width="1.1"/>
<text x="389.95" y="249.3" font-size="6.1" text-anchor="start" font-weight="bold" fill="#d86420" transform="rotate(47 389.95 249.3)">Sezary A</text>
<rect x="398.9" y="148.4" width="2.5" height="93.1" fill="#000" stroke="none" stroke-width="0.7"/>
<rect x="401.65" y="212.64" width="2.3" height="28.86" fill="#e4e4e4" stroke="#444" stroke-width="0.5"/>
<rect x="404.15" y="194.02" width="2.8" height="47.48" fill="#666" stroke="#444" stroke-width="0.3"/>
<line x1="402.8" y1="211.24" x2="402.8" y2="212.64" stroke="#000" stroke-width="0.45"/>
<line x1="402" y1="211.24" x2="403.6" y2="211.24" stroke="#000" stroke-width="0.45"/>
<line x1="402" y1="212.64" x2="403.6" y2="212.64" stroke="#000" stroke-width="0.45"/>
<line x1="405.6" y1="190.95" x2="405.6" y2="194.02" stroke="#000" stroke-width="0.5"/>
<line x1="404.7" y1="190.95" x2="406.5" y2="190.95" stroke="#000" stroke-width="0.5"/>
<line x1="404.7" y1="194.02" x2="406.5" y2="194.02" stroke="#000" stroke-width="0.5"/>
<line x1="399.45" y1="245.2" x2="406.15" y2="245.2" stroke="#000" stroke-width="1.1"/>
<text x="400.45" y="249.3" font-size="6.1" text-anchor="start" font-weight="bold" fill="#d86420" transform="rotate(47 400.45 249.3)">Sezary B</text>
<rect x="409.4" y="148.4" width="2.5" height="93.1" fill="#000" stroke="none" stroke-width="0.7"/>
<rect x="412.15" y="238.06" width="2.3" height="3.44" fill="#e4e4e4" stroke="#444" stroke-width="0.5"/>
<rect x="414.65" y="182.38" width="2.8" height="59.12" fill="#666" stroke="#444" stroke-width="0.3"/>
<line x1="416.1" y1="180.99" x2="416.1" y2="182.38" stroke="#000" stroke-width="0.5"/>
<line x1="415.2" y1="180.99" x2="417" y2="180.99" stroke="#000" stroke-width="0.5"/>
<line x1="415.2" y1="182.38" x2="417" y2="182.38" stroke="#000" stroke-width="0.5"/>
<line x1="409.95" y1="245.2" x2="416.65" y2="245.2" stroke="#000" stroke-width="1.1"/>
<text x="410.95" y="249.3" font-size="6.1" text-anchor="start" font-weight="bold" fill="#2448e0" transform="rotate(47 410.95 249.3)">MCL B</text>
<rect x="419.9" y="148.4" width="2.5" height="93.1" fill="#000" stroke="none" stroke-width="0.7"/>
<rect x="422.65" y="204.26" width="2.3" height="37.24" fill="#e4e4e4" stroke="#444" stroke-width="0.5"/>
<rect x="425.15" y="151.38" width="2.8" height="90.12" fill="#666" stroke="#444" stroke-width="0.3"/>
<line x1="423.8" y1="203.33" x2="423.8" y2="204.26" stroke="#000" stroke-width="0.45"/>
<line x1="423" y1="203.33" x2="424.6" y2="203.33" stroke="#000" stroke-width="0.45"/>
<line x1="423" y1="204.26" x2="424.6" y2="204.26" stroke="#000" stroke-width="0.45"/>
<line x1="426.6" y1="143.75" x2="426.6" y2="151.38" stroke="#000" stroke-width="0.5"/>
<line x1="425.7" y1="143.75" x2="427.5" y2="143.75" stroke="#000" stroke-width="0.5"/>
<line x1="425.7" y1="151.38" x2="427.5" y2="151.38" stroke="#000" stroke-width="0.5"/>
<line x1="420.45" y1="245.2" x2="427.15" y2="245.2" stroke="#000" stroke-width="1.1"/>
<text x="421.45" y="249.3" font-size="6.1" text-anchor="start" font-weight="bold" fill="#2448e0" transform="rotate(47 421.45 249.3)">MCL C</text>
<rect x="430.4" y="148.4" width="2.5" height="93.1" fill="#000" stroke="none" stroke-width="0.7"/>
<rect x="433.15" y="205.19" width="2.3" height="36.31" fill="#e4e4e4" stroke="#444" stroke-width="0.5"/>
<rect x="435.65" y="158.18" width="2.8" height="83.32" fill="#666" stroke="#444" stroke-width="0.3"/>
<line x1="434.3" y1="204.26" x2="434.3" y2="205.19" stroke="#000" stroke-width="0.45"/>
<line x1="433.5" y1="204.26" x2="435.1" y2="204.26" stroke="#000" stroke-width="0.45"/>
<line x1="433.5" y1="205.19" x2="435.1" y2="205.19" stroke="#000" stroke-width="0.45"/>
<line x1="437.1" y1="154.17" x2="437.1" y2="158.18" stroke="#000" stroke-width="0.5"/>
<line x1="436.2" y1="154.17" x2="438" y2="154.17" stroke="#000" stroke-width="0.5"/>
<line x1="436.2" y1="158.18" x2="438" y2="158.18" stroke="#000" stroke-width="0.5"/>
<line x1="430.95" y1="245.2" x2="437.65" y2="245.2" stroke="#000" stroke-width="1.1"/>
<text x="431.95" y="249.3" font-size="6.1" text-anchor="start" font-weight="bold" fill="#e02028" transform="rotate(47 431.95 249.3)">MZL B</text>
<rect x="440.9" y="148.4" width="2.5" height="93.1" fill="#000" stroke="none" stroke-width="0.7"/>
<rect x="443.65" y="206.12" width="2.3" height="35.38" fill="#e4e4e4" stroke="#444" stroke-width="0.5"/>
<rect x="446.15" y="192.34" width="2.8" height="49.16" fill="#666" stroke="#444" stroke-width="0.3"/>
<line x1="444.8" y1="205.19" x2="444.8" y2="206.12" stroke="#000" stroke-width="0.45"/>
<line x1="444" y1="205.19" x2="445.6" y2="205.19" stroke="#000" stroke-width="0.45"/>
<line x1="444" y1="206.12" x2="445.6" y2="206.12" stroke="#000" stroke-width="0.45"/>
<line x1="441.45" y1="245.2" x2="448.15" y2="245.2" stroke="#000" stroke-width="1.1"/>
<text x="442.45" y="249.3" font-size="6.1" text-anchor="start" font-weight="bold" fill="#bca048" transform="rotate(47 442.45 249.3)">HD A</text>
<rect x="451.4" y="148.4" width="2.5" height="93.1" fill="#000" stroke="none" stroke-width="0.7"/>
<rect x="454.15" y="209.85" width="2.3" height="31.65" fill="#e4e4e4" stroke="#444" stroke-width="0.5"/>
<rect x="456.65" y="183.96" width="2.8" height="57.54" fill="#666" stroke="#444" stroke-width="0.3"/>
<line x1="455.3" y1="208.45" x2="455.3" y2="209.85" stroke="#000" stroke-width="0.45"/>
<line x1="454.5" y1="208.45" x2="456.1" y2="208.45" stroke="#000" stroke-width="0.45"/>
<line x1="454.5" y1="209.85" x2="456.1" y2="209.85" stroke="#000" stroke-width="0.45"/>
<line x1="458.1" y1="181.17" x2="458.1" y2="183.96" stroke="#000" stroke-width="0.5"/>
<line x1="457.2" y1="181.17" x2="459" y2="181.17" stroke="#000" stroke-width="0.5"/>
<line x1="457.2" y1="183.96" x2="459" y2="183.96" stroke="#000" stroke-width="0.5"/>
<line x1="451.95" y1="245.2" x2="458.65" y2="245.2" stroke="#000" stroke-width="1.1"/>
<text x="452.95" y="249.3" font-size="6.1" text-anchor="start" font-weight="bold" fill="#1f7a52" transform="rotate(47 452.95 249.3)">FL A</text>
<rect x="461.9" y="148.4" width="2.5" height="93.1" fill="#000" stroke="none" stroke-width="0.7"/>
<rect x="464.65" y="206.12" width="2.3" height="35.38" fill="#e4e4e4" stroke="#444" stroke-width="0.5"/>
<rect x="467.15" y="150.26" width="2.8" height="91.24" fill="#666" stroke="#444" stroke-width="0.3"/>
<line x1="465.8" y1="204.73" x2="465.8" y2="206.12" stroke="#000" stroke-width="0.45"/>
<line x1="465" y1="204.73" x2="466.6" y2="204.73" stroke="#000" stroke-width="0.45"/>
<line x1="465" y1="206.12" x2="466.6" y2="206.12" stroke="#000" stroke-width="0.45"/>
<line x1="468.6" y1="147.47" x2="468.6" y2="150.26" stroke="#000" stroke-width="0.5"/>
<line x1="467.7" y1="147.47" x2="469.5" y2="147.47" stroke="#000" stroke-width="0.5"/>
<line x1="467.7" y1="150.26" x2="469.5" y2="150.26" stroke="#000" stroke-width="0.5"/>
<line x1="462.45" y1="245.2" x2="469.15" y2="245.2" stroke="#000" stroke-width="1.1"/>
<text x="463.45" y="249.3" font-size="6.1" text-anchor="start" font-weight="bold" fill="#1f7a52" transform="rotate(47 463.45 249.3)">FL B</text>
<rect x="474.2" y="147.2" width="44" height="23.2" fill="#fff" stroke="#333" stroke-width="0.8"/>
<rect x="477.3" y="149.95" width="4.3" height="4.3" fill="#000" stroke="#000" stroke-width="0.6"/>
<text x="484" y="154.3" font-size="6.1" text-anchor="start" font-weight="bold" fill="#000" textLength="21.5" lengthAdjust="spacingAndGlyphs">Diluent</text>
<rect x="477.3" y="156.05" width="4.3" height="4.3" fill="#fff" stroke="#000" stroke-width="0.6"/>
<text x="484" y="160.4" font-size="6.1" text-anchor="start" font-weight="bold" fill="#000" textLength="23.6" lengthAdjust="spacingAndGlyphs">OSI-027</text>
<rect x="477.3" y="162.75" width="4.3" height="4.3" fill="#5e5e5e" stroke="#000" stroke-width="0.6"/>
<text x="484" y="167.1" font-size="6.1" text-anchor="start" font-weight="bold" fill="#000" textLength="32.3" lengthAdjust="spacingAndGlyphs">Rapamycin</text>
</svg>
</body></html>
